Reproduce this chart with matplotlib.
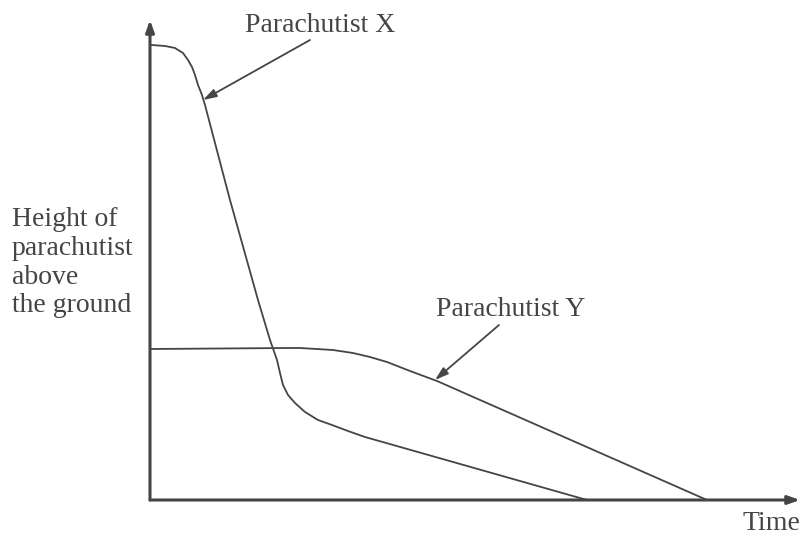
import matplotlib.pyplot as plt

# Parachutist X: time / height points (arbitrary units)
x_time = [0, 2, 15, 25, 33, 38, 42, 45, 48, 52, 55, 80, 108, 120, 127, 130, 133,
          138, 145, 155, 168, 182, 198, 215, 437]
x_height = [455, 455, 454, 452, 447, 440, 433, 425, 415, 405, 395, 300, 200, 160,
            140, 127, 115, 105, 97, 88, 80, 75, 69, 63, 0]

# Parachutist Y
y_time = [0, 140, 150, 183, 203, 220, 237, 260, 287, 557]
y_height = [151, 152, 152, 150, 147, 143, 138, 129, 119, 0]

ylabel_lines = ["Height of", "parachutist", "above", "the ground"]
xlabel = "Time"

ink = "#454545"
plt.rcParams['font.family'] = ['Liberation Serif', 'DejaVu Serif']

fig = plt.figure(figsize=(8.02, 5.36), dpi=100)
ax = fig.add_axes([0, 0, 1, 1])
ax.set_xlim(-150, 652)
ax.set_ylim(-36, 500)
ax.axis('off')

# axes drawn as arrows
arrow_axis = dict(arrowstyle='-|>,head_length=0.7,head_width=0.25', color=ink, lw=2.2,
                  shrinkA=0, shrinkB=0)
ax.annotate('', xy=(0, 480), xytext=(0, 0), arrowprops=arrow_axis)
ax.annotate('', xy=(650, 0), xytext=(0, 0), arrowprops=arrow_axis)

ax.plot(x_time, x_height, color=ink, lw=1.3, solid_joinstyle='round', solid_capstyle='round')
ax.plot(y_time, y_height, color=ink, lw=1.3, solid_joinstyle='round', solid_capstyle='round')

arrow_lbl = dict(arrowstyle='-|>,head_length=0.8,head_width=0.25', color=ink, lw=1.3,
                 shrinkA=0, shrinkB=0)
ax.annotate('', xy=(53, 400), xytext=(160, 460), arrowprops=arrow_lbl)
ax.text(95, 475, 'Parachutist X', fontsize=20, color=ink, ha='left', va='center')

ax.annotate('', xy=(285, 120), xytext=(349, 175), arrowprops=arrow_lbl)
ax.text(286, 190, 'Parachutist Y', fontsize=20, color=ink, ha='left', va='center')

ax.text(-138, 293, "\n".join(ylabel_lines), fontsize=20, color=ink,
        ha='left', va='top', linespacing=1.2)
ax.text(650, -23, xlabel, fontsize=20, color=ink, ha='right', va='center')

fig.savefig('out.png', dpi=100)
